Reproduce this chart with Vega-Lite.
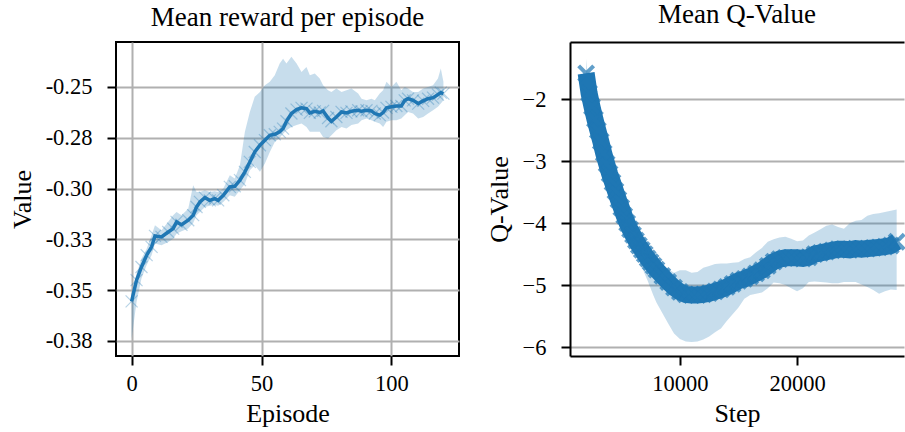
{
  "$schema": "https://vega.github.io/schema/vega-lite/v6.json",
  "padding": {"left": 8, "top": 1, "right": 0, "bottom": 0},
  "background": "white",
  "datasets": {
    "reward": [
      {"ep": 0, "v": -0.3555, "lo": -0.374, "hi": -0.352},
      {"ep": 1.9, "v": -0.3451, "lo": -0.3558, "hi": -0.3419},
      {"ep": 3.8, "v": -0.3386, "lo": -0.3443, "hi": -0.3345},
      {"ep": 5.8, "v": -0.3328, "lo": -0.3376, "hi": -0.3296},
      {"ep": 7.7, "v": -0.3287, "lo": -0.3328, "hi": -0.3230},
      {"ep": 9, "v": -0.3233, "lo": -0.3271, "hi": -0.3181},
      {"ep": 11.5, "v": -0.3238, "lo": -0.3279, "hi": -0.3205},
      {"ep": 14.1, "v": -0.3214, "lo": -0.3263, "hi": -0.3164},
      {"ep": 16, "v": -0.3197, "lo": -0.3247, "hi": -0.3131},
      {"ep": 17.3, "v": -0.3164, "lo": -0.3222, "hi": -0.3115},
      {"ep": 19.2, "v": -0.3178, "lo": -0.3210, "hi": -0.3131},
      {"ep": 21.8, "v": -0.3156, "lo": -0.3197, "hi": -0.3099},
      {"ep": 23.7, "v": -0.3131, "lo": -0.3170, "hi": -0.2984},
      {"ep": 25, "v": -0.3091, "lo": -0.3131, "hi": -0.3017},
      {"ep": 26.3, "v": -0.3066, "lo": -0.3115, "hi": -0.3017},
      {"ep": 28.2, "v": -0.3045, "lo": -0.3091, "hi": -0.3008},
      {"ep": 30.1, "v": -0.3058, "lo": -0.3085, "hi": -0.3017},
      {"ep": 32, "v": -0.3050, "lo": -0.3080, "hi": -0.3013},
      {"ep": 33.3, "v": -0.3058, "lo": -0.3085, "hi": -0.3017},
      {"ep": 35.3, "v": -0.3033, "lo": -0.3066, "hi": -0.3000},
      {"ep": 37.8, "v": -0.2992, "lo": -0.3033, "hi": -0.2935},
      {"ep": 39.7, "v": -0.2989, "lo": -0.3041, "hi": -0.2951},
      {"ep": 41.7, "v": -0.2959, "lo": -0.3008, "hi": -0.2885},
      {"ep": 43.6, "v": -0.2918, "lo": -0.2976, "hi": -0.2721},
      {"ep": 45.5, "v": -0.2869, "lo": -0.2910, "hi": -0.2623},
      {"ep": 47.4, "v": -0.2820, "lo": -0.2885, "hi": -0.2549},
      {"ep": 49.4, "v": -0.2787, "lo": -0.2918, "hi": -0.2525},
      {"ep": 51.3, "v": -0.2762, "lo": -0.2877, "hi": -0.2492},
      {"ep": 53.2, "v": -0.2738, "lo": -0.2820, "hi": -0.2475},
      {"ep": 55.1, "v": -0.2733, "lo": -0.2771, "hi": -0.2443},
      {"ep": 57, "v": -0.2721, "lo": -0.2750, "hi": -0.2385},
      {"ep": 58.3, "v": -0.2705, "lo": -0.2730, "hi": -0.2361},
      {"ep": 59.6, "v": -0.2669, "lo": -0.2713, "hi": -0.2385},
      {"ep": 61.5, "v": -0.2631, "lo": -0.2697, "hi": -0.2352},
      {"ep": 63.5, "v": -0.2612, "lo": -0.2688, "hi": -0.2385},
      {"ep": 65.4, "v": -0.2603, "lo": -0.2680, "hi": -0.2426},
      {"ep": 67.3, "v": -0.2607, "lo": -0.2697, "hi": -0.2402},
      {"ep": 68.6, "v": -0.2628, "lo": -0.2721, "hi": -0.2443},
      {"ep": 70.5, "v": -0.2620, "lo": -0.2721, "hi": -0.2434},
      {"ep": 72.4, "v": -0.2626, "lo": -0.2721, "hi": -0.2459},
      {"ep": 73.7, "v": -0.2618, "lo": -0.2746, "hi": -0.2492},
      {"ep": 75.6, "v": -0.2653, "lo": -0.2754, "hi": -0.2516},
      {"ep": 76.9, "v": -0.2669, "lo": -0.2738, "hi": -0.2525},
      {"ep": 78.8, "v": -0.2648, "lo": -0.2713, "hi": -0.2508},
      {"ep": 80.8, "v": -0.2623, "lo": -0.2697, "hi": -0.2525},
      {"ep": 82.7, "v": -0.2628, "lo": -0.2705, "hi": -0.2516},
      {"ep": 84.6, "v": -0.2620, "lo": -0.2688, "hi": -0.2508},
      {"ep": 87.2, "v": -0.2615, "lo": -0.2680, "hi": -0.2533},
      {"ep": 88.5, "v": -0.2620, "lo": -0.2664, "hi": -0.2558},
      {"ep": 90.4, "v": -0.2615, "lo": -0.2656, "hi": -0.2566},
      {"ep": 92.3, "v": -0.2618, "lo": -0.2664, "hi": -0.2558},
      {"ep": 93.6, "v": -0.2631, "lo": -0.2672, "hi": -0.2566},
      {"ep": 95.5, "v": -0.2639, "lo": -0.2680, "hi": -0.2533},
      {"ep": 96.8, "v": -0.2626, "lo": -0.2697, "hi": -0.2516},
      {"ep": 98.1, "v": -0.2603, "lo": -0.2672, "hi": -0.2475},
      {"ep": 100, "v": -0.2598, "lo": -0.2664, "hi": -0.2500},
      {"ep": 101.9, "v": -0.2594, "lo": -0.2664, "hi": -0.2475},
      {"ep": 103.8, "v": -0.2594, "lo": -0.2656, "hi": -0.2516},
      {"ep": 105.1, "v": -0.2566, "lo": -0.2639, "hi": -0.2500},
      {"ep": 106.4, "v": -0.2558, "lo": -0.2623, "hi": -0.2508},
      {"ep": 108.3, "v": -0.2566, "lo": -0.2631, "hi": -0.2525},
      {"ep": 110.3, "v": -0.2582, "lo": -0.2656, "hi": -0.2525},
      {"ep": 112.2, "v": -0.2569, "lo": -0.2648, "hi": -0.2508},
      {"ep": 114.1, "v": -0.2558, "lo": -0.2631, "hi": -0.2500},
      {"ep": 116, "v": -0.2553, "lo": -0.2615, "hi": -0.2492},
      {"ep": 117.9, "v": -0.2538, "lo": -0.2598, "hi": -0.2459},
      {"ep": 119, "v": -0.2528, "lo": -0.2582, "hi": -0.2410},
      {"ep": 120, "v": -0.2533, "lo": -0.2566, "hi": -0.2475}
    ],
    "qvalue": [
      {"step": 2000, "q": -1.58, "lo": -1.66, "hi": -1.35},
      {"step": 2250, "q": -1.90, "lo": -1.98, "hi": -1.82},
      {"step": 2500, "q": -2.12, "lo": -2.20, "hi": -2.04},
      {"step": 2750, "q": -2.32, "lo": -2.40, "hi": -2.24},
      {"step": 3000, "q": -2.50, "lo": -2.58, "hi": -2.42},
      {"step": 3250, "q": -2.68, "lo": -2.76, "hi": -2.60},
      {"step": 3500, "q": -2.87, "lo": -2.95, "hi": -2.79},
      {"step": 3750, "q": -3.04, "lo": -3.12, "hi": -2.96},
      {"step": 4000, "q": -3.20, "lo": -3.28, "hi": -3.12},
      {"step": 4250, "q": -3.34, "lo": -3.42, "hi": -3.26},
      {"step": 4500, "q": -3.48, "lo": -3.56, "hi": -3.40},
      {"step": 4750, "q": -3.62, "lo": -3.70, "hi": -3.54},
      {"step": 5000, "q": -3.75, "lo": -3.84, "hi": -3.67},
      {"step": 5250, "q": -3.88, "lo": -3.98, "hi": -3.80},
      {"step": 5500, "q": -4.00, "lo": -4.12, "hi": -3.92},
      {"step": 5750, "q": -4.10, "lo": -4.24, "hi": -4.02},
      {"step": 6000, "q": -4.19, "lo": -4.36, "hi": -4.10},
      {"step": 6250, "q": -4.28, "lo": -4.47, "hi": -4.18},
      {"step": 6500, "q": -4.36, "lo": -4.58, "hi": -4.25},
      {"step": 6750, "q": -4.43, "lo": -4.70, "hi": -4.31},
      {"step": 7000, "q": -4.50, "lo": -4.82, "hi": -4.37},
      {"step": 7250, "q": -4.57, "lo": -4.93, "hi": -4.43},
      {"step": 7500, "q": -4.63, "lo": -5.05, "hi": -4.48},
      {"step": 7750, "q": -4.69, "lo": -5.17, "hi": -4.53},
      {"step": 8000, "q": -4.75, "lo": -5.28, "hi": -4.58},
      {"step": 8500, "q": -4.85, "lo": -5.45, "hi": -4.66},
      {"step": 9000, "q": -4.95, "lo": -5.62, "hi": -4.74},
      {"step": 9500, "q": -5.04, "lo": -5.78, "hi": -4.80},
      {"step": 10000, "q": -5.11, "lo": -5.87, "hi": -4.76},
      {"step": 10500, "q": -5.15, "lo": -5.91, "hi": -4.76},
      {"step": 11000, "q": -5.16, "lo": -5.92, "hi": -4.80},
      {"step": 11500, "q": -5.16, "lo": -5.91, "hi": -4.79},
      {"step": 12000, "q": -5.15, "lo": -5.88, "hi": -4.72},
      {"step": 12500, "q": -5.13, "lo": -5.83, "hi": -4.69},
      {"step": 13000, "q": -5.10, "lo": -5.76, "hi": -4.66},
      {"step": 13500, "q": -5.07, "lo": -5.70, "hi": -4.65},
      {"step": 14000, "q": -5.03, "lo": -5.58, "hi": -4.65},
      {"step": 14500, "q": -4.98, "lo": -5.47, "hi": -4.64},
      {"step": 15000, "q": -4.93, "lo": -5.36, "hi": -4.63},
      {"step": 15500, "q": -4.90, "lo": -5.22, "hi": -4.58},
      {"step": 16000, "q": -4.86, "lo": -5.16, "hi": -4.55},
      {"step": 16500, "q": -4.81, "lo": -5.14, "hi": -4.47},
      {"step": 17000, "q": -4.76, "lo": -5.12, "hi": -4.40},
      {"step": 17500, "q": -4.69, "lo": -5.05, "hi": -4.30},
      {"step": 18000, "q": -4.62, "lo": -4.96, "hi": -4.26},
      {"step": 18500, "q": -4.58, "lo": -4.97, "hi": -4.23},
      {"step": 19000, "q": -4.56, "lo": -5.00, "hi": -4.22},
      {"step": 19500, "q": -4.56, "lo": -5.05, "hi": -4.25},
      {"step": 20000, "q": -4.56, "lo": -5.10, "hi": -4.29},
      {"step": 20500, "q": -4.57, "lo": -5.05, "hi": -4.28},
      {"step": 21000, "q": -4.55, "lo": -4.95, "hi": -4.20},
      {"step": 21500, "q": -4.50, "lo": -4.94, "hi": -4.15},
      {"step": 22000, "q": -4.48, "lo": -4.95, "hi": -4.10},
      {"step": 22500, "q": -4.46, "lo": -4.96, "hi": -4.04},
      {"step": 23000, "q": -4.44, "lo": -4.97, "hi": -4.02},
      {"step": 23500, "q": -4.42, "lo": -4.97, "hi": -4.06},
      {"step": 24000, "q": -4.42, "lo": -4.95, "hi": -4.09},
      {"step": 24500, "q": -4.43, "lo": -4.95, "hi": -4.00},
      {"step": 25000, "q": -4.41, "lo": -4.95, "hi": -3.96},
      {"step": 25500, "q": -4.42, "lo": -4.99, "hi": -3.95},
      {"step": 26000, "q": -4.41, "lo": -5.03, "hi": -3.88},
      {"step": 26500, "q": -4.40, "lo": -5.08, "hi": -3.85},
      {"step": 27000, "q": -4.39, "lo": -5.14, "hi": -3.84},
      {"step": 27500, "q": -4.38, "lo": -5.10, "hi": -3.82},
      {"step": 28000, "q": -4.36, "lo": -5.07, "hi": -3.80},
      {"step": 28500, "q": -4.30, "lo": -5.08, "hi": -3.78}
    ]
  },
  "config": {
    "font": "Liberation Serif",
    "axis": {
      "labelFont": "Liberation Serif",
      "titleFont": "Liberation Serif",
      "labelFontSize": 22.5,
      "titleFontSize": 26,
      "titleFontWeight": "normal",
      "labelColor": "black",
      "titleColor": "black",
      "tickColor": "black",
      "tickSize": 9,
      "tickWidth": 2,
      "gridColor": "#b0b0b0",
      "gridWidth": 2,
      "gridOpacity": 1,
      "domain": false
    },
    "axisX": {"labelPadding": 7, "titlePadding": 6, "labelFlush": false},
    "axisY": {"labelPadding": 15, "titlePadding": 10},
    "title": {"font": "Liberation Serif", "fontSize": 27, "fontWeight": "normal", "color": "black", "offset": 10},
    "concat": {"spacing": 26}
  },
  "hconcat": [
    {
      "width": 343,
      "height": 314,
      "title": "Mean reward per episode",
      "view": {"stroke": "black", "strokeWidth": 2},
      "data": {"name": "reward"},
      "layer": [
        {
          "mark": {"type": "area", "color": "#1f77b4", "opacity": 0.25},
          "encoding": {
            "x": {"field": "ep", "type": "quantitative", "scale": {"domain": [-6, 126], "nice": false, "zero": false},
                  "axis": {"title": "Episode", "values": [0, 50, 100]}},
            "y": {"field": "lo", "type": "quantitative", "scale": {"domain": [-0.3824, -0.2279], "nice": false, "zero": false},
                  "axis": {"title": "Value", "values": [-0.375, -0.35, -0.325, -0.3, -0.275, -0.25],
                           "labelExpr": "replace(format(datum.value, '.2f'), '\u2212', '-')"}},
            "y2": {"field": "hi"}
          }
        },
        {
          "mark": {"type": "point", "shape": "M -1 -1 L 1 1 M -1 1 L 1 -1", "filled": false, "stroke": "#1f77b4", "strokeOpacity": 0.45, "strokeWidth": 1.2, "size": 144},
          "encoding": {
            "x": {"field": "ep", "type": "quantitative"},
            "y": {"field": "v", "type": "quantitative"}
          }
        },
        {
          "mark": {"type": "line", "color": "#1f77b4", "strokeWidth": 3.5},
          "encoding": {
            "x": {"field": "ep", "type": "quantitative"},
            "y": {"field": "v", "type": "quantitative"}
          }
        }
      ]
    },
    {
      "width": 334,
      "height": 314,
      "title": "Mean Q-Value",
      "view": {"stroke": null},
      "data": {"name": "qvalue"},
      "resolve": {"axis": {"x": "independent"}},
      "layer": [
        {
          "mark": {"type": "area", "color": "#1f77b4", "opacity": 0.25},
          "encoding": {
            "x": {"field": "step", "type": "quantitative", "scale": {"domain": [622, 29126], "nice": false, "zero": false},
                  "axis": {"orient": "top", "title": null, "labels": false, "ticks": false, "grid": false, "domain": true, "domainColor": "black", "domainWidth": 2}},
            "y": {"field": "lo", "type": "quantitative", "scale": {"domain": [-6.145, -1.074], "nice": false, "zero": false},
                  "axis": {"title": "Q-Value", "values": [-6, -5, -4, -3, -2], "format": "d", "domain": true, "domainColor": "black", "domainWidth": 2}},
            "y2": {"field": "hi"}
          }
        },
        {
          "mark": {"type": "line", "color": "#1f77b4", "strokeWidth": 17},
          "encoding": {
            "x": {"field": "step", "type": "quantitative",
                  "axis": {"title": "Step", "values": [10000, 20000], "format": "d", "domain": true, "domainColor": "black", "domainWidth": 2}},
            "y": {"field": "q", "type": "quantitative"}
          }
        },
        {
          "mark": {"type": "point", "shape": "M -1 -1 L 1 1 M -1 1 L 1 -1", "filled": false, "stroke": "#1f77b4", "strokeOpacity": 1, "strokeWidth": 4, "size": 225},
          "encoding": {
            "x": {"field": "step", "type": "quantitative", "axis": null},
            "y": {"field": "q", "type": "quantitative"}
          }
        }
      ]
    }
  ]
}
